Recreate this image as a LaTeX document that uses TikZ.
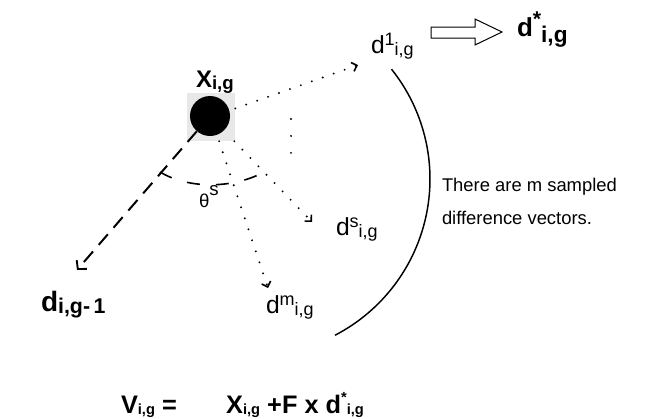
\documentclass[tikz,border=0pt]{standalone}
\usepackage{fontspec}
\setmainfont{Liberation Sans}
\usetikzlibrary{arrows.meta}

\newcommand{\fs}[1]{\fontsize{#1}{#1}\selectfont}
\newcommand{\scr}[3]{\raisebox{#1}{\fs{#2}#3}}

\begin{document}
\begin{tikzpicture}[x=0.75pt, y=-0.75pt,
  lbl/.style={inner sep=0pt, outer sep=0pt, anchor=base west},
  dotvec/.style={line width=1.6pt, line cap=round, dash pattern=on 0pt off 8.7pt,
    -{Straight Barb[length=3.5pt, width=7pt, line width=1.2pt]}},
  dashvec/.style={line width=1.5pt, dash pattern=on 10.5pt off 6.5pt,
    -{Straight Barb[length=4.5pt, width=10pt, line width=1.4pt]}}]
  \useasboundingbox (0,0) rectangle (653,418);

  % the point and its box
  \node[fill=gray!18, minimum size=36pt, inner sep=0pt] (xbox) at (211,117) {};
  \node[circle, fill=black, minimum size=30pt, inner sep=0pt] (x) at (210,116) {};
  \node[lbl] (xlab) at (196,87) {\bfseries\fs{18}X\scr{-2pt}{14}{i,g}};

  % ends of the vectors
  \coordinate (t1) at (358,65);
  \coordinate (ts) at (312,222);
  \coordinate (tm) at (268,288);
  \coordinate (tp) at (77,270);
  \coordinate (v1) at (291,119);
  \coordinate (v2) at (291,154);

  \draw[dotvec] (xbox) -- (t1);
  \draw[dotvec] (xbox) -- (ts);
  \draw[dotvec] (xbox) -- (tm);
  \draw[line width=1.6pt, line cap=round, dash pattern=on 0pt off 12.7pt] (v1) -- (v2);
  \draw[dashvec] (x) -- (tp);

  % angle
  \draw[line width=1.2pt, dash pattern=on 9.75pt off 12pt]
    (160,172) .. controls (190,190) and (235,188) .. (264,172);
  \node[lbl] (theta) at (199,207) {\fs{14}θ\scr{9pt}{14}{s}};

  \node[lbl] (d1) at (371,53) {\fs{18.5}d\scr{6pt}{13.5}{1}\scr{-1.5pt}{13.5}{i,g}};
  \node[lbl] (ds) at (336,235) {\fs{18.5}d\scr{6pt}{13.5}{s}\scr{-1.5pt}{13.5}{i,g}};
  \node[lbl] (dm) at (266,313) {\fs{18.5}d\scr{6pt}{13.5}{m}\scr{-1.5pt}{13.5}{i,g}};
  \node[lbl] (dp) at (41,311) {\bfseries\fs{21}d\scr{-1.5pt}{16}{i,g-\,1}};
  \node[lbl] (dstar) at (517,36) {\bfseries\fs{19.5}d\scr{7pt}{16}{*}\scr{-4.5pt}{17}{i,g}};

  % hollow arrow
  \draw[line width=0.75pt] (431,27) -- (475,27) -- (475,19) -- (502,32)
    -- (475,45) -- (475,38) -- (431,38) -- cycle;

  % bracket of the sampled vectors
  \draw[line width=1.1pt] (254,179) ++(-38.6:176) arc[start angle=-38.6, end angle=62.6, radius=176];
  \node[lbl, align=left, font=\fontsize{13.8}{24.5}\selectfont] (note) at (442,224)
    {There are m sampled\\difference vectors.};

  \node[lbl] (eq) at (121,413) {\bfseries\fs{19}V\scr{-1pt}{11}{i,g} =\hspace{37pt}X\scr{-1pt}{11}{i,g} +F x d\scr{8pt}{11}{*}\scr{-1pt}{11}{i,g}};
\end{tikzpicture}
\end{document}
